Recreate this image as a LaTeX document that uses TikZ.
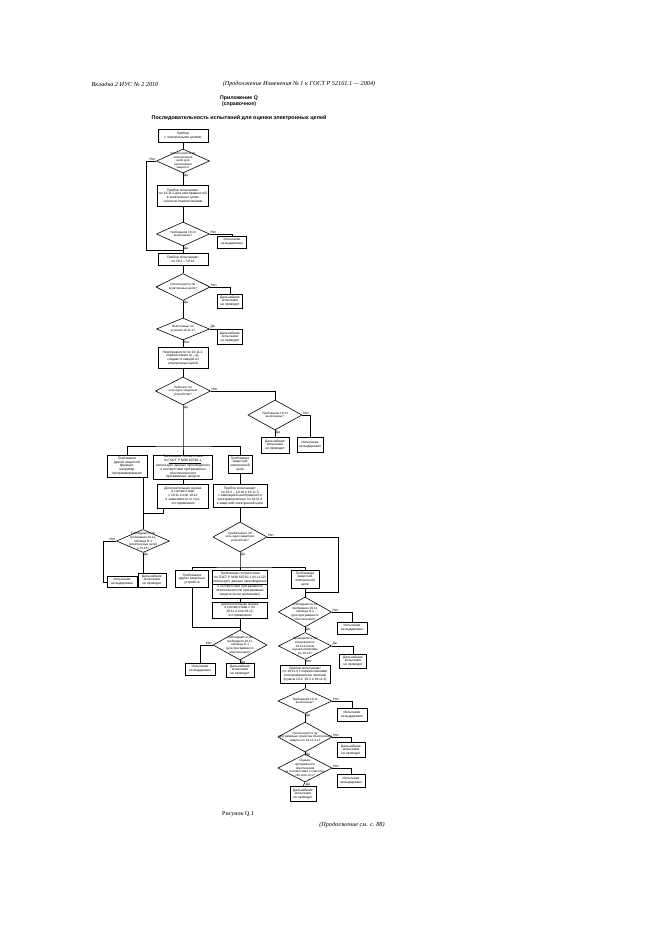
\documentclass[tikz,border=0pt]{standalone}
\usepackage{fontspec}
\setmainfont{Liberation Serif}
\setsansfont{Liberation Sans}
\usetikzlibrary{shapes.geometric}

\newcommand{\boxfont}{\sffamily\fontsize{3.3}{3.8}\selectfont}
\newcommand{\diafont}{\sffamily\fontsize{3.1}{3.6}\selectfont}
\newcommand{\nofurther}{Дальнейшие\\испытания\\не проводят}
\newcommand{\failtest}{Испытание\\не выдержано}

\tikzset{
	sz/.style args={#1x#2}{minimum width=#1pt,minimum height=#2pt},
	blk/.style={draw,line width=0.7pt,font=\boxfont,align=center,inner sep=0.3pt},
	dia/.style={diamond,draw,line width=0.6pt,inner sep=0pt},
	dtxt/.style={font=\diafont,align=center,inner sep=0pt},
	yn/.style={font=\sffamily\fontsize{3.4}{4}\selectfont,inner sep=0.6pt},
	conn/.style={line width=0.55pt},
	hdr/.style={font=\itshape\fontsize{6.2}{7}\selectfont,inner sep=0pt}
}

\begin{document}
\begin{tikzpicture}[x=1pt,y=-1pt]
	\useasboundingbox (0,0) rectangle (661,936);
	% header
	\node[hdr] (hdrl) at (125,84) {Вкладка 2 ИУС № 2 2010};
	\node[hdr] (hdrr) at (299,84) {(Продолжение Изменения № 1 к ГОСТ Р 52161.1 — 2004)};
	\node[font=\sffamily\bfseries\fontsize{5.2}{6}\selectfont,align=center,inner sep=0pt] (appx) at (239,101) {Приложение Q\\(справочное)};
	\node[font=\sffamily\bfseries\fontsize{5.4}{6}\selectfont,inner sep=0pt] (ttl) at (239,118) {Последовательность испытаний для оценки электронных цепей};

	% main column
	\node[blk,sz=50x13] (b1) at (183,136) {Прибор\\с электронными цепями};
	\node[dia,sz=53x24,label={[dtxt]center:Используются ли\\электронные\\цепи для\\выполнения\\защиты?}] (d1) at (183,161) {};
	\node[blk,sz=51x21] (b2) at (183,196) {Прибор испытывают\\по 19.11.2 для неисправностей\\в электронных цепях\\согласно перечислениям};
	\node[dia,sz=53x24,label={[dtxt]center:Требования 19.13\\выполнены?}] (d2) at (183,234) {};
	\node[blk,sz=29x12] (f1) at (232,242) {\failtest};
	\node[blk,sz=50x12] (b3) at (183,259) {Прибор испытывают\\по 19.2 – 19.10};
	\node[dia,sz=54x27,label={[dtxt]center:Используются ли\\электронные цепи?}] (d3) at (183,287) {};
	\node[blk,sz=25x14] (e1) at (230,301) {\nofurther};
	\node[dia,sz=53x22,label={[dtxt]center:Выполнены ли\\условия 19.11.1?}] (d4) at (183,329) {};
	\node[blk,sz=25x15] (e2) at (230,337) {\nofurther};
	\node[blk,sz=50x21] (b4) at (183,358) {Неисправности по 19.11.2,\\перечисления a) – g),\\создают в каждой из\\электронных цепей};
	\node[dia,sz=55x28,label={[dtxt]center:Работает ли\\хоть одно защитное\\устройство?}] (d5) at (183,391) {};
	\node[dia,sz=54x30,label={[dtxt]center:Требования 19.13\\выполнены?}] (d6) at (275,415) {};
	\node[blk,sz=28x16] (e3) at (275,445) {\nofurther};
	\node[blk,sz=26x15] (f2) at (310,445) {\failtest};
	\coordinate (j1) at (183,250);
	\coordinate (j1l) at (146,250);
	\coordinate (j2) at (183,446);

	% three branches
	\node[blk,sz=40x22] (t1) at (127,466) {Требования\\другой защитной\\функции,\\например\\программирования};
	\node[blk,sz=59x24] (t2) at (183,467) {Требования соответствия\\по \underline{ГОСТ Р МЭК 60730-1},\\используют данные производителя\\о соответствии программного\\обеспечения или\\программных средств};
	\node[blk,sz=24x18] (t3) at (240,464) {Требования\\защитной\\электронной\\цепи};
	\node[blk,sz=51x24] (t4) at (183,496) {Дополнительная оценка\\в соответствии\\с 19.11.4 или 19.12\\в зависимости от того,\\что применимо};
	\node[blk,sz=54x23] (t5) at (240,496) {Прибор испытывают\\по 19.2 – 19.10 и 19.11.3\\с имитацией неисправности\\электромагнитных по 19.11.4\\в защитной электронной цепи};
	\coordinate (j3) at (143,513);

	% left branch
	\node[dia,sz=53x23,label={[dtxt]center:Соблюдаются ли\\требования 19.11,\\таблицы R.1\\(электронные цепи)\\и 19.13?}] (d7) at (143,541) {};
	\node[blk,sz=30x11] (f3) at (122,582) {\failtest};
	\node[blk,sz=28x14] (e4) at (152,580) {\nofurther};

	% right branch
	\node[dia,sz=54x30,label={[dtxt]center:Срабатывает ли\\хоть одно защитное\\устройство?}] (d8) at (240,537) {};
	\coordinate (j5) at (240,567);
	\coordinate (c8) at (338,592);
	\coordinate (j4) at (305,592);
	\node[blk,sz=33x17] (u1) at (192,579) {Требования\\других защитных\\устройств};
	\node[blk,sz=55x28] (u2) at (240,584) {Требования соответствия\\по ГОСТ Р МЭК 60730-1 (H.11.12)\\\underline{используют данные производителя}\\о соответствии программного\\обеспечения или программных\\средств (если применимо)};
	\node[blk,sz=28x18] (u3) at (305,579) {Требования\\защитной\\электронной\\цепи};
	\node[blk,sz=55x16] (u4) at (240,610) {Дополнительная оценка\\в соответствии с пп.\\19.11.4 или 19.12,\\что применимо};
	\coordinate (j6) at (240,627);
	\node[dia,sz=54x30,label={[dtxt]center:Соблюдаются ли\\требования 19.11,\\таблицы R.1\\(для программного\\обеспечения)?}] (d14) at (240,645) {};
	\node[blk,sz=30x12] (f4) at (200,669) {\failtest};
	\node[blk,sz=28x14] (e5) at (240,670) {\nofurther};

	\node[dia,sz=53x30,label={[dtxt]center:Соблюдаются ли\\требования 19.11,\\таблицы R.2\\(для программного\\обеспечения)?}] (d9) at (305,612) {};
	\node[blk,sz=30x12] (f5) at (352,628) {\failtest};
	\node[dia,sz=53x27,label={[dtxt]center:Проводились ли\\испытания по\\19.11.4 и/или\\оценка программ\\по 19.11?}] (d10) at (305,646) {};
	\node[blk,sz=27x14] (e6) at (353,661) {\nofurther};
	\node[blk,sz=50x18] (b5) at (305,674) {Прибор испытывают\\по 19.11.4 с перечислениями\\электромагнитных явлений\\(пункты 19.2, 19.3 и 19.11.3)};
	\node[dia,sz=54x25,label={[dtxt]center:Требования 19.11\\выполнены?}] (d11) at (305,701) {};
	\node[blk,sz=30x13] (f6) at (352,715) {\failtest};
	\node[dia,sz=54x30,label={[dtxt]center:Используются ли\\программные средства обеспечения\\защиты по 19.11.4.1?}] (d12) at (305,737) {};
	\node[blk,sz=28x15] (e7) at (351,750) {\nofurther};
	\node[dia,sz=54x28,label={[dtxt]center:Оценка\\программного\\обеспечения\\в соответствии с классом\\«B» или «C»?}] (d13) at (305,768) {};
	\node[blk,sz=28x13] (f7) at (351,781) {\failtest};
	\node[blk,sz=26x15] (e8) at (303,794) {\nofurther};

	% yes / no labels
	\node[yn,anchor=south east] (n1) at (d1.west) {Нет};
	\node[yn,anchor=north west] (y1) at (d1.south) {Да};
	\node[yn,anchor=south west] (n2) at (d2.east) {Нет};
	\node[yn,anchor=north west] (y2) at (d2.south) {Да};
	\node[yn,anchor=south west] (n3) at (d3.east) {Нет};
	\node[yn,anchor=north west] (y3) at (d3.south) {Да};
	\node[yn,anchor=south west] (y4) at (d4.east) {Да};
	\node[yn,anchor=north west] (n4) at (d4.south) {Нет};
	\node[yn,anchor=south west] (n5) at (d5.east) {Нет};
	\node[yn,anchor=north west] (y5) at (d5.south) {Да};
	\node[yn,anchor=south west] (n6) at (d6.east) {Нет};
	\node[yn,anchor=north west] (y6) at (d6.south) {Да};
	\node[yn,anchor=south east] (n7) at (d7.west) {Нет};
	\node[yn,anchor=north west] (y7) at (d7.south) {Да};
	\node[yn,anchor=south west] (n8) at (d8.east) {Нет};
	\node[yn,anchor=north west] (y8) at (d8.south) {Да};
	\node[yn,anchor=south east] (n14) at (d14.west) {Нет};
	\node[yn,anchor=north west] (y14) at (d14.south) {Да};
	\node[yn,anchor=south west] (n9) at (d9.east) {Нет};
	\node[yn,anchor=north west] (y9) at (d9.south) {Да};
	\node[yn,anchor=south west] (y10) at (d10.east) {Да};
	\node[yn,anchor=north west] (n10) at (d10.south) {Нет};
	\node[yn,anchor=south west] (n11) at (d11.east) {Нет};
	\node[yn,anchor=north west] (y11) at (d11.south) {Да};
	\node[yn,anchor=south west] (n12) at (d12.east) {Нет};
	\node[yn,anchor=north west] (y12) at (d12.south) {Да};
	\node[yn,anchor=south west] (n13) at (d13.east) {Нет};
	\node[yn,anchor=north west] (y13) at (d13.south) {Да};

	% connectors
	\draw[conn] (b1) -- (d1) -- (b2) -- (d2) -- (b3) -- (d3) -- (d4) -- (b4) -- (d5);
	\draw[conn] (d1.west) -| (j1l) -- (j1);
	\draw[conn] (d2.east) -| (f1.north);
	\draw[conn] (d3.east) -| (e1.north);
	\draw[conn] (d4.east) -| (e2.north);
	\draw[conn] (d5.east) -| (d6.north);
	\draw[conn] (d6.east) -| (f2.north);
	\draw[conn] (d6.south) -- (e3.north);
	\draw[conn] (d5.south) -- (j2) -- (t2.north);
	\draw[conn] (t1.north) |- (j2) -| (t3.north);
	\draw[conn] (t2.south) -- (t4.north);
	\draw[conn] (t3.south) -- (t5.north);
	\draw[conn] (t1.south -| d7.north) -- (d7.north);
	\draw[conn] ([xshift=6pt]t4.south west) |- (j3);
	\draw[conn] (d7.west) -| ([xshift=-3pt]f3.west) -- (f3.west);
	\draw[conn] (d7.south) -- (d7.south |- e4.north);
	\draw[conn] (t5.south) -- (d8.north);
	\draw[conn] (d8.south) -- (j5) -- (u2.north);
	\draw[conn] (u1.north) |- (j5) -| (u3.north);
	\draw[conn] (d8.east) -| (c8) -- (j4);
	\draw[conn] (u2.south) -- (u4.north);
	\draw[conn] (u4.south) -- (d14.north);
	\draw[conn] (u1.south) |- (j6);
	\draw[conn] (d14.west) -| (f4.north);
	\draw[conn] (d14.south) -- (e5.north);
	\draw[conn] (u3.south) -- (d9.north);
	\draw[conn] (d9.east) -| (f5.north);
	\draw[conn] (d9.south) -- (d10.north);
	\draw[conn] (d10.east) -| (e6.north);
	\draw[conn] (d10.south) -- (b5.north);
	\draw[conn] (b5.south) -- (d11.north);
	\draw[conn] (d11.east) -| (f6.north);
	\draw[conn] (d11.south) -- (d12.north);
	\draw[conn,line width=0.9pt] (d12.east) -| (e7.north);
	\draw[conn] (d12.south) -- (d13.north);
	\draw[conn,line width=0.9pt] (d13.east) -| (f7.north);
	\draw[conn] (d13.south) -- (e8.north);

	% footer
	\node[font=\fontsize{6}{7}\selectfont,inner sep=0pt] (fig) at (238,814) {Рисунок Q.1};
	\node[hdr] (cont) at (352,825) {(Продолжение см. с. 88)};
\end{tikzpicture}
\end{document}
